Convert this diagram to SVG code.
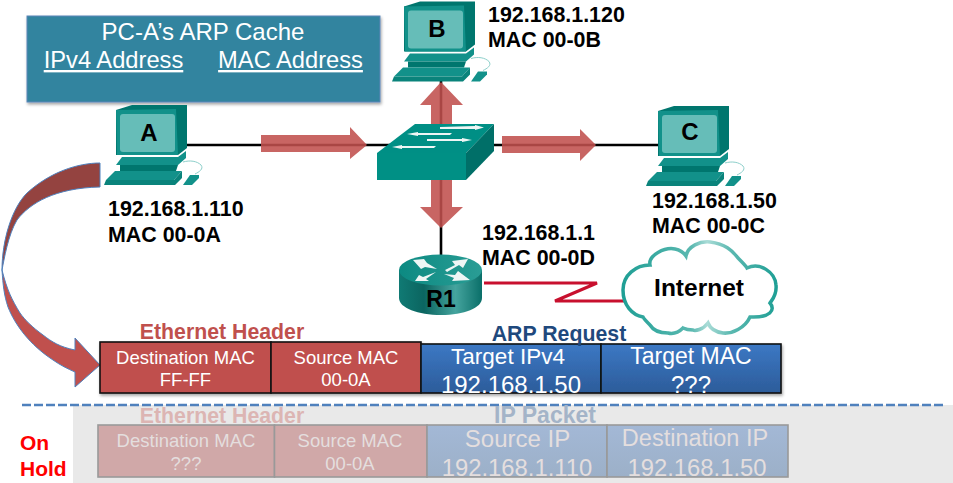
<svg xmlns="http://www.w3.org/2000/svg" xmlns:xlink="http://www.w3.org/1999/xlink" width="953" height="483" viewBox="0 0 953 483">
<style>
text{font-family:"Liberation Sans",Arial,sans-serif}
.lbl{font-size:21.400px;font-weight:bold;fill:#000}
.pcl{font-size:24px;font-weight:bold;fill:#000;text-anchor:middle}
.w{fill:#fff;text-anchor:middle}
.p{fill:#e4dede;text-anchor:middle}
.hd{font-size:21.300px;font-weight:bold;text-anchor:middle}
.arr{fill:#c0504d;fill-opacity:.88}
.cell{stroke:#111;stroke-width:1.6}
.pale{stroke:#999;stroke-width:1.6}
.t1{fill:#12918a}.t2{fill:#00766e}.t3{fill:#66bdb8}.t4{fill:#0a837b}
.wh{fill:#eef6f5}
</style>
<defs>
<linearGradient id="blue" x1="0" y1="0" x2="0" y2="1"><stop offset="0" stop-color="#3c78c4"/><stop offset="1" stop-color="#2c5c9a"/></linearGradient>
<linearGradient id="paleblue" x1="0" y1="0" x2="0" y2="1"><stop offset="0" stop-color="#a3b8d6"/><stop offset="1" stop-color="#9cb0c8"/></linearGradient>
<linearGradient id="rt" x1="0" y1="0" x2="1" y2="0"><stop offset="0" stop-color="#107a74"/><stop offset=".3" stop-color="#0b6560"/><stop offset=".68" stop-color="#45a49e"/><stop offset="1" stop-color="#0a6f69"/></linearGradient>
<linearGradient id="rtop" x1="0" y1="0" x2="1" y2="0"><stop offset="0" stop-color="#0c8a82"/><stop offset="1" stop-color="#2a9d95"/></linearGradient>
<linearGradient id="cl" x1="0" y1="0" x2="1" y2="0"><stop offset="0" stop-color="#1f9f95"/><stop offset=".45" stop-color="#5cb9b1"/><stop offset=".55" stop-color="#aadcd7"/><stop offset=".7" stop-color="#5cb9b1"/><stop offset="1" stop-color="#1f9f95"/></linearGradient>
<filter id="sh" x="-5%" y="-10%" width="110%" height="125%"><feDropShadow dx="1" dy="2" stdDeviation="1.5" flood-color="#000" flood-opacity=".35"/></filter>
<g id="pc">
<polygon class="t2" points="116,110 132,105 187,105 187,148 178,155 116,155"/>
<polygon class="t1" points="116,110 176,109 178,155 117,155"/>
<rect class="t3" x="120" y="114" width="55" height="38" rx="3"/>
<polygon class="t1" points="122,157 178,157 186,151 186,158 178,165 116,165"/>
<polygon class="t2" points="120,165 178,165 176,171 120,171"/>
<polygon class="t1" points="115,171 182,171 174,180 106,180"/>
<polygon class="t4" points="106,180 174,180 182,171 182,178 175,185 104,185"/>
<polygon class="t1" points="183,185 190,175 199,175 199,178 192,185"/>
<path d="M183,162 C190,160 197,161 201,165 C204,169 199,172 195,174" fill="none" stroke="#8ccfca" stroke-width="1"/>
</g>
</defs>
<rect width="953" height="483" fill="#fff"/>
<rect x="73" y="405" width="880" height="78" fill="#e9e9e9"/>

<g id="connectors">
<line x1="187" y1="145" x2="400" y2="145" stroke="#000" stroke-width="2.600"/>
<line x1="480" y1="145" x2="660" y2="145" stroke="#000" stroke-width="2.600"/>
<line x1="441" y1="80" x2="441" y2="255" stroke="#000" stroke-width="2.600"/>
<polyline points="484,283 597,283 555,301 624,301" fill="none" stroke="#c8102e" stroke-width="3"/>
<polygon class="arr" points="261,135 350,135 350,127 367,145 350,159 350,152 261,152"/>
<polygon class="arr" points="502,136 580,136 580,129 596,145 580,161 580,153 502,153"/>
<polygon class="arr" points="431,124 431,105 420,105 441,82 463,105 452,105 452,124"/>
<polygon class="arr" points="431,180 431,207 420,207 441,228 463,207 452,207 452,180"/>
<path d="M100,163 C78,163 50,172 27,193 C12,208 2,240 2,270 C4,260 8,235 17,220 C30,203 55,188 100,187 Z" fill="#944340" stroke="#4f81bd" stroke-width="1"/>
<path d="M2,270 C3,285 4,295 8,307 C15,325 30,345 53,360 C60,365 68,369 75,372 L75,387 L100,365 L75,338 L75,350 C60,347 52,342 43,335 C32,327 25,320 20,313 C12,300 7,290 2,270 Z" fill="#c0504d" stroke="#4f81bd" stroke-width="1"/>
</g>

<g id="arp-cache">
<rect x="27" y="16" width="353" height="86" fill="#33849f" stroke="#5b86b8" stroke-width="1" filter="url(#sh)"/>
<text class="w" x="203" y="40" font-size="24">PC-A’s ARP Cache</text>
<text class="w" x="113.500" y="68" font-size="23.700" text-decoration="underline">IPv4 Address</text>
<text class="w" x="290.500" y="68" font-size="23.700" text-decoration="underline">MAC Address</text>
</g>

<g id="pc-a"><use xlink:href="#pc" href="#pc"/><text class="pcl" x="149" y="141">A</text></g>
<g id="pc-b"><use xlink:href="#pc" href="#pc" transform="translate(288,-103.500)"/><text class="pcl" x="437" y="37">B</text></g>
<g id="pc-c"><use xlink:href="#pc" href="#pc" transform="translate(542,1)"/><text class="pcl" x="690" y="140">C</text></g>

<g id="label-a"><text class="lbl" x="108" y="216">192.168.1.110</text><text class="lbl" x="108" y="242">MAC 00-0A</text></g>
<g id="label-b"><text class="lbl" x="488" y="22">192.168.1.120</text><text class="lbl" x="488" y="47">MAC 00-0B</text></g>
<g id="label-c"><text class="lbl" x="652" y="208">192.168.1.50</text><text class="lbl" x="652" y="233">MAC 00-0C</text></g>
<g id="label-r1"><text class="lbl" x="482" y="240">192.168.1.1</text><text class="lbl" x="482" y="265">MAC 00-0D</text></g>

<g id="switch">
<polygon points="377,153 415,124 494,124 466,153" fill="#008f85"/>
<polygon points="377,153 466,153 466,180 377,180" fill="#009085"/>
<polygon points="466,153 494,124 494,151 466,180" fill="#006f68"/>
<polygon class="wh" points="440,127 475,126 475,125 484,127.500 475,130 475,129 440,129"/>
<polygon class="wh" points="452,133 418,133 418,132 407,134 418,136 418,135 450,135"/>
<polygon class="wh" points="427,139 462,139 462,138 472,140 462,142 462,141 427,141"/>
<polygon class="wh" points="436,146 402,146 402,145 392,147 402,149 402,148 434,148"/>
</g>

<g id="router-r1">
<path d="M399,270 L399,298 C399,308 418,315 441,315 C464,315 482,308 482,298 L482,270 Z" fill="url(#rt)"/>
<ellipse cx="440.500" cy="270" rx="41.500" ry="15.500" fill="url(#rtop)"/>
<polygon class="wh" points="413,260 424,259 427,263 437,269 425,267 421,269"/>
<polygon class="wh" points="445,270 455,265 452,261 468,259 463,268 459,265 447,272"/>
<polygon class="wh" points="415,281 419,275 423,277 436,272 426,279 429,281"/>
<polygon class="wh" points="444,274 455,275 458,271 470,280 452,281 454,278"/>
<text class="pcl" x="441" y="307" style="font-size:23px">R1</text>
</g>

<g id="internet">
<path d="M623,290 C623,275 636,265 650,265 C648,255 665,247 675,249 C680,250 684,253 686,256 C688,246 700,241 710,242 C725,244 732,250 738,258 C742,262 746,266 747,268 C760,262 775,272 776,285 C777,295 772,300 770,303 C776,310 770,318 750,317 C745,328 732,334 723,333 C715,332 710,328 708,323 C703,330 695,331 693,330 C688,330 685,329 683,328 C678,333 672,334 668,333 C660,333 653,330 650,325 C647,322 644,319 643,317 C632,315 623,305 623,290 Z" fill="#fff" stroke="url(#cl)" stroke-width="3.500"/>
<text x="699" y="296" font-size="24.500" font-weight="bold" text-anchor="middle">Internet</text>
</g>

<g id="frame-header">
<text class="hd" x="222" y="339" fill="#c0504d">Ethernet Header</text>
<g filter="url(#sh)">
<rect class="cell" x="100" y="342" width="171" height="51" fill="#c0504d"/>
<rect class="cell" x="271" y="342" width="150" height="51" fill="#c0504d"/>
<rect class="cell" x="421" y="344" width="180" height="49" fill="url(#blue)"/>
<rect class="cell" x="601" y="344" width="180" height="49" fill="url(#blue)"/>
</g>
<text class="hd" x="559" y="341" fill="#1f497d">ARP Request</text>
<text class="w" x="185.500" y="364" font-size="18.500">Destination MAC</text>
<text class="w" x="185.500" y="386" font-size="18.500">FF-FF</text>
<text class="w" x="346" y="364" font-size="18.500">Source MAC</text>
<text class="w" x="346" y="386" font-size="18.500">00-0A</text>
<text class="w" x="508" y="364" font-size="22.500">Target IPv4</text>
<text class="w" x="511" y="393" font-size="24">192.168.1.50</text>
<text class="w" x="691" y="364" font-size="23">Target MAC</text>
<text class="w" x="691" y="393" font-size="24">???</text>
</g>

<line id="divider" x1="22" y1="405" x2="943" y2="405" stroke="#4f81bd" stroke-width="2.500" stroke-dasharray="9 3"/>

<g id="on-hold">
<text x="20" y="450" font-size="21" font-weight="bold" fill="#f00">On</text>
<text x="20" y="476" font-size="21" font-weight="bold" fill="#f00">Hold</text>
<text class="hd" x="222" y="423" fill="#dcb5b3">Ethernet Header</text>
<text class="hd" x="545" y="423" fill="#a4b4c8" style="font-size:23px">IP Packet</text>
<rect class="pale" x="98" y="425" width="176.500" height="52" fill="#d0a8a8"/>
<rect class="pale" x="274.500" y="425" width="152.500" height="52" fill="#d0a8a8"/>
<rect class="pale" x="427" y="425" width="180" height="52" fill="url(#paleblue)"/>
<rect class="pale" x="607" y="425" width="181" height="52" fill="url(#paleblue)"/>
<text class="p" x="186" y="447" font-size="18.500">Destination MAC</text>
<text class="p" x="186" y="470" font-size="18.500">???</text>
<text class="p" x="350" y="447" font-size="18.500">Source MAC</text>
<text class="p" x="350" y="470" font-size="18.500">00-0A</text>
<text class="p" x="517.500" y="447" font-size="24">Source IP</text>
<text class="p" x="517" y="476" font-size="23.800">192.168.1.110</text>
<text class="p" x="695" y="446" font-size="23.500">Destination IP</text>
<text class="p" x="697" y="476" font-size="23.800">192.168.1.50</text>
</g>
</svg>
